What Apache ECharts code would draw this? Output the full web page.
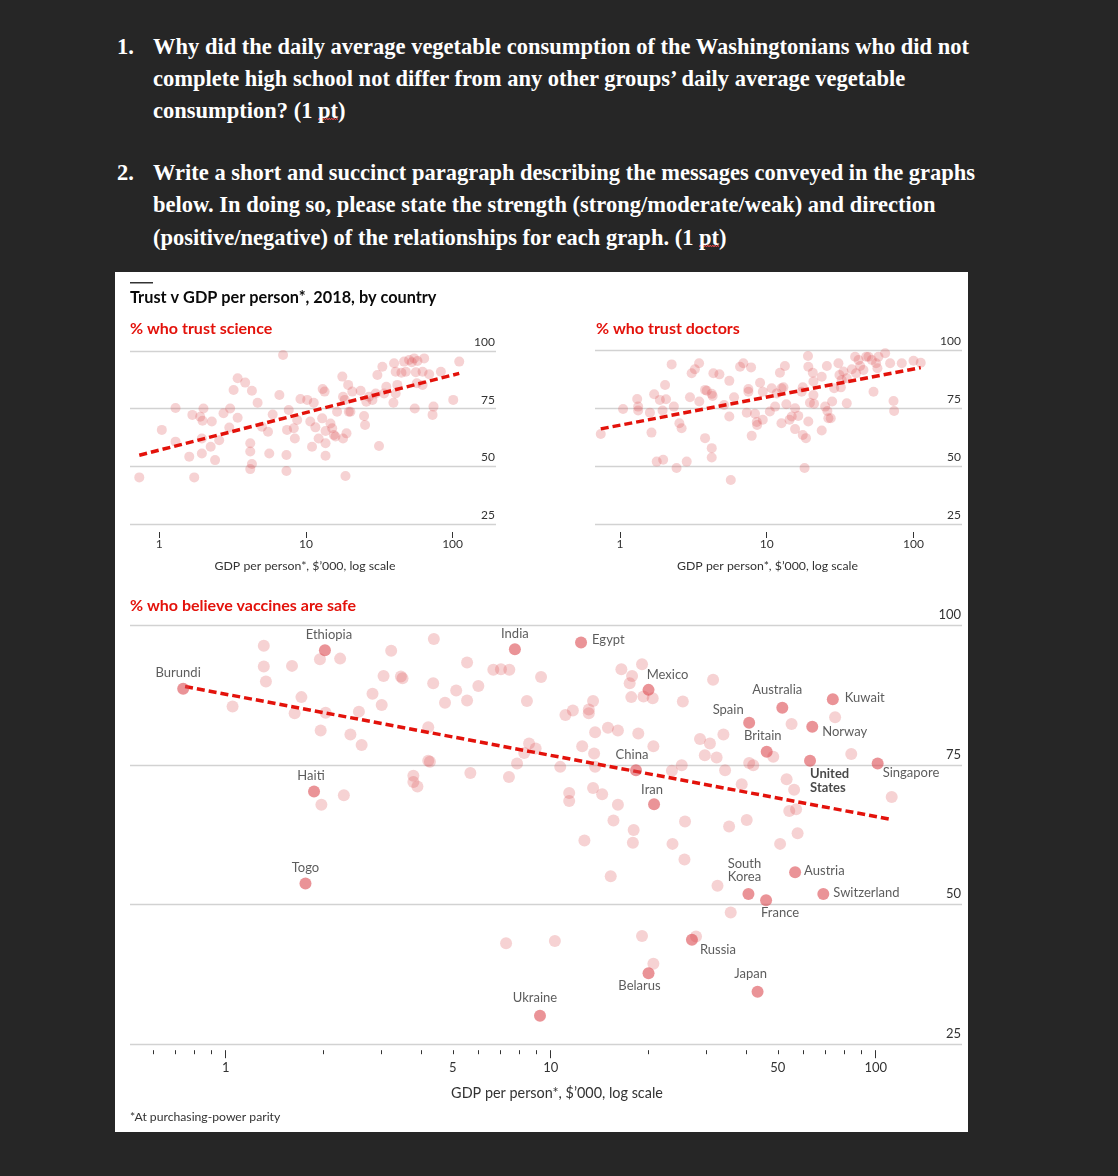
<!DOCTYPE html>
<html><head><meta charset="utf-8">
<script src="https://cdn.jsdelivr.net/npm/echarts@6/dist/echarts.min.js"></script>
<style>
html,body{margin:0;padding:0;background:#262626;width:1118px;height:1176px;overflow:hidden;}
.q{position:absolute;color:#fff;font-family:"Liberation Serif","Times New Roman",serif;font-weight:bold;font-size:22.5px;line-height:32px;white-space:nowrap;}
.pt{background-image:url("data:image/svg+xml,%3Csvg xmlns='http://www.w3.org/2000/svg' width='5' height='4'%3E%3Cpath d='M0 3 L1.25 1 L2.5 3 L3.75 1 L5 3' fill='none' stroke='%23e04848' stroke-width='1'/%3E%3C/svg%3E");background-repeat:repeat-x;background-position:0 19px;background-size:5px 4px;}
#chart{position:absolute;left:115px;top:272px;width:853px;height:860px;background:#fff;}
</style></head><body>
<div class="q" style="left:117px;top:31px">1.</div>
<div class="q" style="left:153px;top:31px">Why did the daily average vegetable consumption of the Washingtonians who did not</div>
<div class="q" style="left:153px;top:63px">complete high school not differ from any other groups’ daily average vegetable</div>
<div class="q" style="left:153px;top:95px">consumption? (1 <span class="pt">pt</span>)</div>
<div class="q" style="left:117px;top:157px">2.</div>
<div class="q" style="left:153px;top:157px">Write a short and succinct paragraph describing the messages conveyed in the graphs</div>
<div class="q" style="left:153px;top:189px">below. In doing so, please state the strength (strong/moderate/weak) and direction</div>
<div class="q" style="left:153px;top:222px">(positive/negative) of the relationships for each graph. (1 <span class="pt">pt</span>)</div>
<div id="chart"></div>
<script>
// ---------- DATA ----------
const scienceGdp = [0.73,1.04,1.29,1.29,1.6,1.73,1.68,1.9,2.0,1.97,1.95,1.95,2.28,2.24,2.4,2.56,2.74,3.04,3.0,3.21,3.42,3.42,3.85,4.28,4.68,4.17,4.17,4.28,4.17,5.01,5.51,5.62,5.93,6.59,6.98,7.43,7.63,7.36,7.36,8.26,8.4,8.71,9.17,10.2,10.7,11.3,11.6,11.0,12.2,12.9,13.0,13.4,13.6,13.6,13.6,14.7,15.1,15.5,16.3,15.9,17.7,17.9,18.4,17.9,18.6,18.9,19.4,20.1,20.7,19.6,23.6,24.9,25.3,25.8,26.9,28.4,29.9,30.7,31.5,33.2,34.1,35.3,39.5,39.9,40.9,42,40.9,44.8,46.7,48,50.5,52.7,54.7,56.1,55.2,57.6,64,62.4,69.2,57,74.1,73,83.2,101,111,62.4];
const scienceTrust = [45.2,65.8,75.3,60.7,54.2,45.2,72.3,71.5,75.1,69.8,62.1,55.6,69.4,58.5,52.7,61.3,73,75.1,66.8,83.1,88.2,71.1,86.3,82.8,77.6,60,56.4,51,48.8,67.2,65,55.6,72.5,80.9,98.3,65.8,74.4,54.9,48,66.5,62.1,70.1,79.2,78.8,69.4,77.6,66.9,58.5,62.1,70.8,83.5,82.4,65.3,60,54.6,68.6,66.5,63.6,73.7,62.9,88.9,80.2,78.8,62.1,45.8,64.3,85.3,73.7,82.4,73.7,82.8,71.8,67.9,78,80.2,78.8,81.6,89.6,58.8,93.2,81.6,84.5,77.6,94.7,91,85.3,81.6,90.6,95.4,91,96.1,95.1,96.8,90.8,75.1,95.7,96.8,91,89.9,86,75.9,72.3,91,78.8,95.4,85.3];
const scienceTrendGdp = [0.73, 111];
const scienceTrendPct = [54.8, 90.3];

const doctorsGdp = [0.74,1.05,1.31,1.33,1.33,1.6,1.64,1.71,1.78,1.87,1.95,1.97,2.03,2.06,2.25,2.33,2.54,2.63,2.43,2.85,3.0,3.08,3.24,3.46,3.47,3.8,3.9,4.22,4.33,4.28,3.8,4.22,4.22,4.76,5.12,5.56,5.56,5.69,5.99,6.58,6.93,7.31,7.5,7.5,7.82,7.9,8.32,8.55,8.6,9.01,9.4,9.4,10.5,10.8,11.4,11.7,12.3,12.6,12.6,13.3,13,13.6,14.3,14.8,15.6,15.6,16.4,17.3,17.6,17.6,18.5,18.1,19.1,19.2,19.2,19.7,20.6,20.8,20.8,21,23.7,25,25.7,25.9,26.3,27.3,27.9,28.8,30.8,31.3,32,32.4,33.3,35.1,35.1,38,40,40.6,42.2,43.3,45.6,47.6,49.3,52,53.4,55.6,56.8,57.7,64.1,69.3,73.1,73.8,83.2,100,112,23.7];
const doctorsTrust = [63.8,74.6,78.9,75.6,73.9,73,64.4,80.9,51.9,78.5,73.9,52.7,84.9,78.8,93.8,75.6,68.4,66.3,49.1,51.9,79.6,90,91.7,94.3,77.8,82.8,82.4,81.1,90,80.2,62,57.7,53.7,89.5,76.3,86.7,71.3,44,79.6,92.8,94.3,73,83.2,82,92.5,63,72.5,69,67.7,85.9,69.9,82,73.5,83.5,75.6,81.3,90.2,83.5,68.4,93.1,83.9,76.6,69.9,71.3,74.9,65.9,71.6,82,83.9,63.4,62,49.1,97.4,92.8,69.2,77.3,90.2,86.4,80.6,76.8,88.5,75.6,93.1,73.7,70.6,70.6,77.8,83.5,94.3,89.2,83.9,87.1,90.7,77,87.8,91.7,97.1,90,95.7,93.1,91.4,97.1,97.1,95.7,82,94.3,92.1,97.1,98.6,94.3,78,73.7,94.3,95.4,94.5,65.3];
const doctorsTrendGdp = [0.74, 112];
const doctorsTrendPct = [66.0, 92.4];

const vaccineGdp = [1.05,1.31,1.31,1.33,1.95,2.25,1.6,1.71,1.63,2.03,1.96,2.42,2.62,2.57,2.83,3.02,3.06,3.23,3.46,3.5,4.37,4.35,4.2,4.2,4.25,4.73,5.12,5.53,5.53,5.99,6.66,7.03,7.46,8.45,9.34,1.97,2.31,3.78,3.78,3.89,5.66,7.44,7.88,8.58,8.99,8.29,11.1,11.7,13.1,13.1,13.5,13.7,15,16.1,16.5,19.1,17.8,17.5,17.7,19.3,20.6,25.5,18.6,12.5,13.6,20.7,28.8,29.8,10.7,13.7,23.6,25.3,11.4,11.4,13.5,14.4,16.1,15.6,18,17.9,25.9,23.7,25.8,12.7,15.3,31.6,30.9,32.4,34,34.4,55.1,75,48.4,40.8,42,84.1,38.7,53.2,56.1,112,54.2,56.9,40.1,35.4,57.5,50.8,32.6,35.8,19.1,28,20.7,7.29,10.3];
const vaccineSafe = [85.5,96.4,92.7,90,94,94.1,92.8,87.2,84.3,84.4,81.2,80.5,78.6,84.6,87.8,85.8,91,95.5,90.9,90.6,97.6,89.7,81.8,75.8,75.6,86.2,88.4,93.4,86.6,89.2,92.1,92.2,92.1,86.5,90.8,67.9,69.6,73.1,72,71.2,73.6,72.9,75.3,78.9,78,77.2,84,84.8,85,84.3,86.5,80.9,81.7,81.2,92.2,93.1,91,89.7,87.2,87.3,87,86.4,80.7,78.4,77.1,78.4,79.7,76.8,74.7,74.7,74,75,70,68.6,70.9,69.8,67.9,65.1,63.4,61.1,64.9,60.9,58.1,61.5,55.1,90.3,78.9,76.4,80.5,74.1,82.4,83.6,76.5,75.4,75,77,71.6,72.5,70.6,69.3,66.8,67.1,65.2,64,62.8,60.9,53.4,48.6,44.4,44.3,39.4,43.1,43.5];
const namedCountries = ["Burundi","Ethiopia","India","Egypt","Mexico","Spain","Australia","Kuwait","Norway","Britain","China","Iran","United States","Singapore","Haiti","Togo","South Korea","Austria","Switzerland","France","Russia","Japan","Belarus","Ukraine"];
const namedGdp = [0.74,2.02,7.76,12.4,20.0,40.8,51.6,73.8,63.8,46.2,18.3,20.8,62.8,101.4,1.87,1.76,40.6,56.5,69.0,46.0,27.2,43.3,20.0,9.27];
const namedSafe = [88.7,95.6,95.8,97.0,88.5,82.6,85.3,86.8,81.9,77.4,74.1,68.0,75.8,75.3,70.3,53.8,51.9,55.8,51.9,50.8,43.7,34.4,37.7,30.1];
const vaccineTrendGdp = [0.75, 111];
const vaccineTrendPct = [89.1, 65.3];

const smallTicks = [1, 10, 100];
const vaccineLabelTicks = [1, 5, 10, 50, 100];
const vaccineMinorTicks = [0.6,0.7,0.8,0.9,2,3,4,5,6,7,8,9,20,30,40,50,60,70,80,90];
const vaccineMajorTicks = [1, 10, 100];

const chartTitle = "Trust v GDP per person*, 2018, by country";
const panelTitles = ["% who trust science", "% who trust doctors", "% who believe vaccines are safe"];
const xAxisTitle = "GDP per person*, $\u2019000, log scale";
const footnote = "*At purchasing-power parity";

// ---------- STYLE ----------
const FONT = 'Lato, "Noto Sans", sans-serif';
const RED = '#e3120b';
const faint = 'rgba(219,68,75,0.3)';
const strong = 'rgba(219,68,75,0.72)';
const TXT = '#333';
const labelText = {"United States":"United\nStates","South Korea":"South\nKorea"};
const labelLayout = {
  "Burundi":{position:'top',distance:3,offset:[-5,0]},
  "Ethiopia":{position:'top',distance:3,offset:[4,0]},
  "India":{position:'top',distance:3,offset:[0,0]},
  "Egypt":{position:'right',distance:5,offset:[0,-3]},
  "Mexico":{position:'top',distance:3,offset:[19,0]},
  "Spain":{position:'top',distance:3,offset:[-21,3]},
  "Australia":{position:'top',distance:3,offset:[-5,-2]},
  "Kuwait":{position:'right',distance:6,offset:[0,-2]},
  "Norway":{position:'right',distance:4,offset:[0,5]},
  "Britain":{position:'top',distance:3,offset:[-4,0]},
  "China":{position:'top',distance:3,offset:[-4,0]},
  "Iran":{position:'top',distance:3,offset:[-2,1]},
  "United States":{position:'bottom',distance:0,align:'left',offset:[0,0],fontWeight:'bold',color:'#1a1a1a',lineHeight:14},
  "Singapore":{position:'bottom',distance:0,align:'left',offset:[5,-3]},
  "Haiti":{position:'top',distance:3,offset:[-3,0]},
  "Togo":{position:'top',distance:3,offset:[0,0]},
  "South Korea":{position:'top',distance:3,offset:[-4,-2],lineHeight:13},
  "Austria":{position:'right',distance:3,offset:[0,-2]},
  "Switzerland":{position:'right',distance:4,offset:[0,-1]},
  "France":{position:'bottom',distance:0,offset:[14,0]},
  "Russia":{position:'bottom',distance:0,align:'left',offset:[8,-3]},
  "Japan":{position:'top',distance:3,offset:[-7,-2]},
  "Belarus":{position:'bottom',distance:0,offset:[-9,0]},
  "Ukraine":{position:'top',distance:3,offset:[-5,-2]}
};

const zip = (a, b) => a.map((v, i) => [v, b[i]]);

function smallX(gridIndex, min, max, namePad) {
  return {
    type: 'log', logBase: 10, gridIndex, min, max, position: 'bottom', offset: 8,
    axisLine: {show: false},
    axisTick: {show: true, length: 6, customValues: smallTicks, lineStyle: {color: TXT, width: 1}},
    axisLabel: {customValues: smallTicks, margin: 6, fontSize: 12, color: TXT, fontFamily: FONT,
      formatter: v => String(Math.round(v))},
    splitLine: {show: false}, minorTick: {show: false},
    name: xAxisTitle, nameLocation: 'middle', nameGap: 28,
    nameTextStyle: {fontSize: 12.3, color: TXT, fontFamily: FONT, padding: namePad}
  };
}
function yAx(gridIndex, fs, pad) {
  return {
    type: 'value', gridIndex, min: 25, max: 100, interval: 25, position: 'right',
    axisLine: {show: false}, axisTick: {show: false},
    axisLabel: {inside: true, margin: 1, verticalAlign: 'bottom', fontSize: fs, color: TXT, fontFamily: FONT, padding: [0, 0, pad, 0]},
    splitLine: {show: true, lineStyle: {color: '#d2d2d2', width: 1.3}}
  };
}
const trendStyle = {color: RED, width: 3.5, type: [8, 4]};

const option = {
  backgroundColor: '#fff',
  animation: false,
  grid: [
    {left: 15, top: 79, width: 366, height: 173},
    {left: 480, top: 78, width: 367, height: 174},
    {left: 15, top: 353.7, width: 832, height: 418.5}
  ],
  xAxis: [
    smallX(0, 0.631, 197.7, [0, 16, 0, 0]),
    smallX(1, 0.676, 214, [0, 22, 0, 0]),
    {
      type: 'log', logBase: 10, gridIndex: 2, min: 0.5077, max: 184.3, position: 'bottom', offset: 6,
      axisLine: {show: false},
      axisTick: {show: true, length: 4, customValues: vaccineMinorTicks, lineStyle: {color: TXT, width: 1}},
      axisLabel: {customValues: vaccineLabelTicks, margin: 11, fontSize: 13, color: TXT, fontFamily: FONT,
        formatter: v => String(Math.round(v))},
      splitLine: {show: false}, minorTick: {show: false},
      name: xAxisTitle, nameLocation: 'middle', nameGap: 36,
      nameTextStyle: {fontSize: 14.4, color: TXT, fontFamily: FONT, padding: [0, 0, 0, 22]}
    },
    {
      type: 'log', logBase: 10, gridIndex: 2, min: 0.5077, max: 184.3, position: 'bottom', offset: 6,
      axisLine: {show: false},
      axisTick: {show: true, length: 8, customValues: vaccineMajorTicks, lineStyle: {color: TXT, width: 1}},
      axisLabel: {show: false}, splitLine: {show: false}
    }
  ],
  yAxis: [yAx(0, 12, 3), yAx(1, 12, 3), yAx(2, 13, 4)],
  graphic: [
    {type: 'rect', shape: {x: 15, y: 10, width: 23, height: 1.5}, style: {fill: '#333'}},
    {type: 'text', x: 15, y: 26, style: {text: chartTitle, fill: '#0a0a0a', font: 'bold 16.3px ' + FONT, verticalAlign: 'middle'}},
    {type: 'text', x: 15, y: 57, style: {text: panelTitles[0], fill: RED, font: 'bold 16px ' + FONT, verticalAlign: 'middle'}},
    {type: 'text', x: 481, y: 57, style: {text: panelTitles[1], fill: RED, font: 'bold 16px ' + FONT, verticalAlign: 'middle'}},
    {type: 'text', x: 15, y: 334, style: {text: panelTitles[2], fill: RED, font: 'bold 16px ' + FONT, verticalAlign: 'middle'}},
    {type: 'text', x: 15, y: 845, style: {text: footnote, fill: TXT, font: '12.2px ' + FONT, verticalAlign: 'middle'}}
  ],
  series: [
    {type: 'scatter', xAxisIndex: 0, yAxisIndex: 0, data: zip(scienceGdp, scienceTrust), symbolSize: 10,
      itemStyle: {color: faint}, silent: true, z: 2},
    {type: 'line', xAxisIndex: 0, yAxisIndex: 0, data: zip(scienceTrendGdp, scienceTrendPct), symbol: 'none',
      lineStyle: trendStyle, silent: true, z: 3},
    {type: 'scatter', xAxisIndex: 1, yAxisIndex: 1, data: zip(doctorsGdp, doctorsTrust), symbolSize: 10,
      itemStyle: {color: faint}, silent: true, z: 2},
    {type: 'line', xAxisIndex: 1, yAxisIndex: 1, data: zip(doctorsTrendGdp, doctorsTrendPct), symbol: 'none',
      lineStyle: trendStyle, silent: true, z: 3},
    {type: 'scatter', xAxisIndex: 2, yAxisIndex: 2, data: zip(vaccineGdp, vaccineSafe), symbolSize: 12,
      itemStyle: {color: faint}, silent: true, z: 2},
    {type: 'scatter', xAxisIndex: 2, yAxisIndex: 2, symbolSize: 12, itemStyle: {color: strong}, silent: true, z: 4,
      data: namedCountries.map((n, i) => {
        const l = labelLayout[n];
        return {
          name: n, value: [namedGdp[i], namedSafe[i]],
          label: Object.assign({show: true, formatter: labelText[n] || n, fontSize: 13, color: TXT, fontFamily: FONT}, l)
        };
      })},
    {type: 'line', xAxisIndex: 2, yAxisIndex: 2, data: zip(vaccineTrendGdp, vaccineTrendPct), symbol: 'none',
      lineStyle: trendStyle, silent: true, z: 3}
  ]
};
const chart = echarts.init(document.getElementById('chart'));
chart.setOption(option);
</script>
</body></html>
